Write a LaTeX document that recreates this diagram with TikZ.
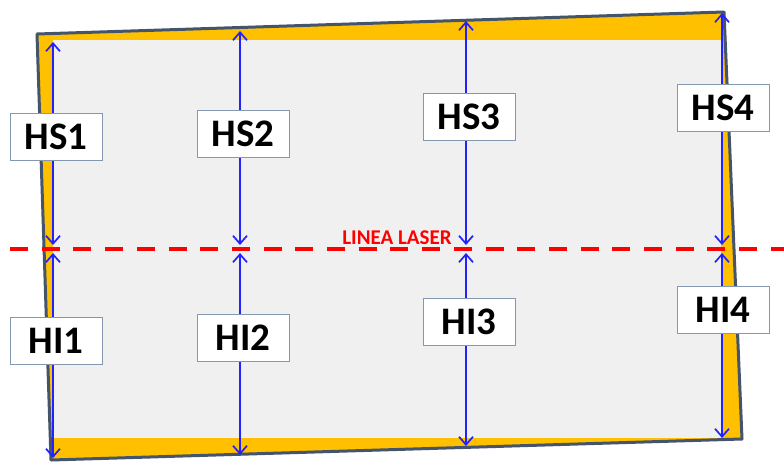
\documentclass[tikz,border=0pt]{standalone}
\usepackage{fontspec}
\setmainfont{Carlito}
\usetikzlibrary{arrows.meta}
\definecolor{frameorange}{HTML}{FFC000}
\definecolor{frameline}{HTML}{44546A}
\definecolor{panelgray}{HTML}{F0F0F0}
\definecolor{boxline}{HTML}{8497B0}
\definecolor{arrowblue}{HTML}{2222FF}
\definecolor{laserred}{HTML}{FF0000}
\tikzset{
  meas/.style={draw=arrowblue, line width=1.7pt, {Straight Barb[length=8pt,width=14pt]}-{Straight Barb[length=8pt,width=14pt]}},
  lbl/.style={draw=boxline, line width=1pt, fill=white, minimum width=92pt, minimum height=47pt, inner sep=0pt, font=\fontsize{39}{41}\selectfont\bfseries, text=black},
  laser/.style={draw=laserred, line width=3.5pt, dash pattern=on 18pt off 13.7pt, dash phase=21.7pt},
}
\begin{document}
\begin{tikzpicture}[x=1pt,y=-1pt]
\useasboundingbox[fill=white] (0,0) rectangle (784,461);
% frame
\path[fill=frameorange, draw=frameline, line width=3pt, line join=round] (37,34) -- (724,12) -- (742,439) -- (51,460) -- cycle;
\path[fill=panelgray] (53,40) rectangle (721,438);
% laser line
\coordinate (lasL) at (0,249);
\coordinate (lasR) at (784,249);
\draw[laser] (lasL) -- (lasR);
\node[text=laserred, font=\fontsize{21}{22}\selectfont\bfseries, anchor=base] (lasertxt) at (397,244) {LINEA LASER};
% coordinates
\coordinate (t1) at (53,42);  \coordinate (u1) at (53,245); \coordinate (d1) at (53,253); \coordinate (b1) at (53,458);
\coordinate (t2) at (240,31); \coordinate (u2) at (240,245); \coordinate (d2) at (240,253); \coordinate (b2) at (240,455);
\coordinate (t3) at (466,21); \coordinate (u3) at (466,245); \coordinate (d3) at (466,253); \coordinate (b3) at (466,446);
\coordinate (t4) at (722,13); \coordinate (u4) at (722,245); \coordinate (d4) at (722,253); \coordinate (b4) at (722,438);
\foreach \i in {1,2,3,4}{
  \draw[meas] (t\i) -- (u\i);
  \draw[meas] (d\i) -- (b\i);
}
% labels
\node[lbl] (hs1) at (56,136.5) {HS1};
\node[lbl] (hs2) at (243,133.5) {HS2};
\node[lbl] (hs3) at (469,116.5) {HS3};
\node[lbl] (hs4) at (723,107.5) {HS4};
\node[lbl] (hi1) at (56,340.5) {HI1};
\node[lbl] (hi2) at (243,338) {HI2};
\node[lbl] (hi3) at (469,321.5) {HI3};
\node[lbl] (hi4) at (723,310) {HI4};
\end{tikzpicture}
\end{document}
